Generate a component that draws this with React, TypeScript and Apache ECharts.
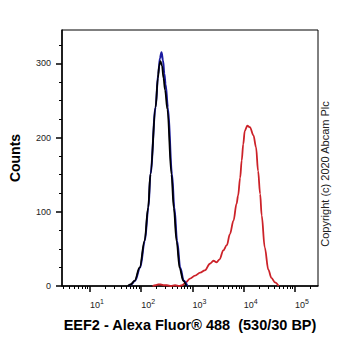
import React, { useEffect, useRef } from "react";
import * as echarts from "echarts";

// x values are log10(fluorescence), y values are counts
const blueX = [1.75, 1.8, 1.88, 1.98, 2.07, 2.14, 2.18, 2.28, 2.33, 2.365, 2.395, 2.425, 2.45, 2.475, 2.52, 2.6, 2.645, 2.7, 2.76, 2.83, 2.9];
const blueY = [0, 2, 7, 25, 61, 106, 151, 241, 285, 307, 315, 304, 286, 272, 241, 151, 106, 61, 25, 7, 0];

const blackX = [1.74, 1.79, 1.87, 1.97, 2.065, 2.135, 2.18, 2.28, 2.325, 2.35, 2.375, 2.405, 2.435, 2.465, 2.51, 2.59, 2.635, 2.69, 2.75, 2.82, 2.88];
const blackY = [0, 2, 7, 25, 61, 106, 151, 241, 280, 297, 303, 297, 280, 264, 238, 150, 105, 60, 24, 7, 0];

const redX = [2.22, 2.28, 2.33, 2.38, 2.44, 2.5, 2.58, 2.66, 2.74, 2.8, 2.86, 2.95, 3.05, 3.15, 3.24, 3.34, 3.41, 3.47, 3.53, 3.6, 3.67, 3.73, 3.8, 3.86, 3.89, 3.93, 3.96, 3.99, 4.02, 4.07, 4.12, 4.19, 4.24, 4.28, 4.32, 4.35, 4.41, 4.48, 4.54, 4.61, 4.68];
const redY = [0, 1, 2, 2, 1, 1, 0, 1, 0, 1, 4, 10, 14, 18, 21, 30, 34, 32, 36, 48, 55, 70, 88, 111, 122, 146, 169, 191, 209, 216, 214, 203, 187, 155, 124, 95, 52, 22, 11, 5, 0];

const xMin = 0.4537;
const xMax = 5.449;
const xDecades = [1, 2, 3, 4, 5];
const xMinorTicks: number[] = [];
for (let n = 0; n <= 5; n++) {
  for (let k = 2; k <= 9; k++) {
    const v = n + Math.log10(k);
    if (v >= xMin && v <= xMax) xMinorTicks.push(v);
  }
}
const yMax = 345;
const yMajor = [0, 100, 200, 300];
const yMinor = [25, 50, 75, 125, 150, 175, 225, 250, 275, 325];

const FONT = "Liberation Sans, Arial, sans-serif";

function pairs(xs: number[], ys: number[]) {
  return xs.map((x, i) => [x, ys[i]]);
}

export default function App() {
  const ref = useRef<HTMLDivElement>(null);
  useEffect(() => {
    if (!ref.current) return;
    const chart = echarts.init(ref.current, undefined, { renderer: "svg" });
    const lineSeries = (name: string, xs: number[], ys: number[], color: string, width: number) => ({
      name,
      type: "line",
      data: pairs(xs, ys),
      smooth: 0.35,
      smoothMonotone: "x",
      showSymbol: false,
      symbol: "none",
      lineStyle: { color, width },
      xAxisIndex: 0,
      yAxisIndex: 0,
    });
    chart.setOption({
      animation: false,
      backgroundColor: "#fff",
      grid: {
        left: 62,
        right: 44,
        top: 30,
        bottom: 65,
        show: true,
        borderColor: "#000",
        borderWidth: 1,
        backgroundColor: "transparent",
      },
      xAxis: [
        {
          type: "value",
          min: xMin,
          max: xMax,
          position: "bottom",
          axisLine: { show: true, onZero: false, lineStyle: { color: "#000", width: 1.5 } },
          axisTick: { show: true, customValues: xDecades, length: 6, inside: false, lineStyle: { color: "#000", width: 1.5 } },
          axisLabel: {
            show: true,
            customValues: xDecades,
            margin: 12,
            align: "left",
            color: "#222",
            fontFamily: FONT,
            formatter: (v: number) => `{b|10}{s|${v}}`,
            rich: {
              b: { fontSize: 9, lineHeight: 11, verticalAlign: "bottom", fontFamily: FONT, color: "#222" },
              s: { fontSize: 7, lineHeight: 7, verticalAlign: "top", fontFamily: FONT, color: "#222" },
            },
          },
          splitLine: { show: false },
          name: "EEF2 - Alexa Fluor® 488  (530/30 BP)",
          nameLocation: "middle",
          nameGap: 31,
          nameTextStyle: { fontFamily: FONT, fontSize: 14.5, fontWeight: "bold", color: "#000" },
        },
        {
          type: "value",
          min: xMin,
          max: xMax,
          position: "bottom",
          axisLine: { show: false },
          axisTick: { show: true, customValues: xMinorTicks, length: 3, inside: false, lineStyle: { color: "#000", width: 1 } },
          axisLabel: { show: false },
          splitLine: { show: false },
        },
      ],
      yAxis: [
        {
          type: "value",
          min: 0,
          max: yMax,
          position: "left",
          axisLine: { show: true, onZero: false, lineStyle: { color: "#000", width: 1.5 } },
          axisTick: { show: true, customValues: yMajor, length: 6, inside: false, lineStyle: { color: "#000", width: 1.5 } },
          axisLabel: { show: true, customValues: yMajor, margin: 11, color: "#222", fontFamily: FONT, fontSize: 9 },
          splitLine: { show: false },
          name: "Counts",
          nameLocation: "middle",
          nameGap: 40,
          nameRotate: 90,
          nameTextStyle: { fontFamily: FONT, fontSize: 14, fontWeight: "bold", color: "#000" },
        },
        {
          type: "value",
          min: 0,
          max: yMax,
          position: "left",
          axisLine: { show: false },
          axisTick: { show: true, customValues: yMinor, length: 3, inside: false, lineStyle: { color: "#000", width: 1 } },
          axisLabel: { show: false },
          splitLine: { show: false },
        },
      ],
      graphic: [
        {
          type: "text",
          x: 325,
          y: 174,
          rotation: Math.PI / 2,
          style: {
            text: "Copyright (c) 2020 Abcam Plc",
            fontFamily: FONT,
            fontSize: 11,
            fill: "#222",
            align: "center",
            verticalAlign: "middle",
          },
        },
      ],
      series: [
        lineSeries("red", redX, redY, "#cc2229", 1.8),
        lineSeries("blue", blueX, blueY, "#1b1ba0", 2),
        lineSeries("black", blackX, blackY, "#000000", 1.8),
      ],
    });
    return () => chart.dispose();
  }, []);
  return <div ref={ref} style={{ width: 362, height: 351, position: "absolute", left: 0, top: 0 }} />;
}
